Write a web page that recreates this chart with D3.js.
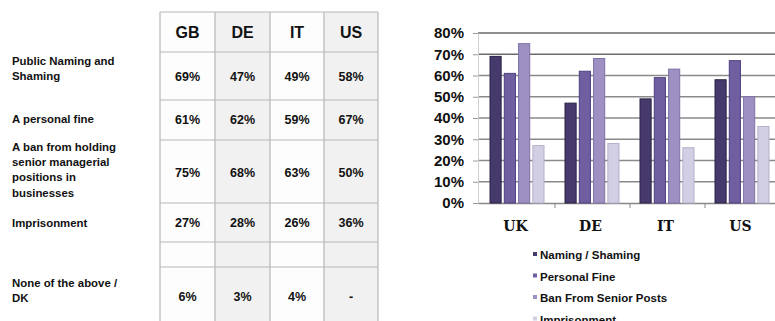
<!DOCTYPE html>
<html>
<head>
<meta charset="utf-8">
<script src="https://cdn.jsdelivr.net/npm/d3@7"></script>
<style>
  html, body { margin: 0; padding: 0; background: #fff; }
  svg { display: block; }
</style>
</head>
<body>
<svg id="c" width="775" height="321"></svg>
<script>
// Table data
const tableCols = ["GB", "DE", "IT", "US"];
const tableRows = [
  ["Public Naming and", "Shaming"],
  ["A personal fine"],
  ["A ban from holding", "senior managerial", "positions in", "businesses"],
  ["Imprisonment"],
  [],
  ["None of the above /", "DK"]
];
const tableValues = [
  ["69%", "47%", "49%", "58%"],
  ["61%", "62%", "59%", "67%"],
  ["75%", "68%", "63%", "50%"],
  ["27%", "28%", "26%", "36%"],
  ["", "", "", ""],
  ["6%", "3%", "4%", "-"]
];

// Chart data
const countries = ["UK", "DE", "IT", "US"];
const seriesNames = ["Naming / Shaming", "Personal Fine", "Ban From Senior Posts", "Imprisonment"];
const namingShaming = [69, 47, 49, 58];
const personalFine = [61, 62, 59, 67];
const banSeniorPosts = [75, 68, 63, 50];
const imprisonment = [27, 28, 26, 36];
const yTicks = [0, 10, 20, 30, 40, 50, 60, 70, 80];

const seriesValues = [namingShaming, personalFine, banSeniorPosts, imprisonment];
const colors = ["#463a6c", "#6f5ea0", "#9e91c2", "#d2cee3"];
const strokes = ["#2c2246", "#4e4080", "#7e72a6", "#b6b0cc"];

const svg = d3.select("#c");
const sans = "'Liberation Sans', Arial, sans-serif";

// ---------- Table ----------
const colEdges = [160, 215, 270, 324, 378];
const rowEdges = [12, 52, 100, 140, 203, 242, 267, 330];
const tbl = svg.append("g");

// column shading
tableCols.forEach((c, i) => {
  tbl.append("rect")
    .attr("x", colEdges[i]).attr("y", rowEdges[0])
    .attr("width", colEdges[i + 1] - colEdges[i])
    .attr("height", rowEdges[rowEdges.length - 1] - rowEdges[0])
    .attr("fill", i % 2 === 1 ? "#f1f1f1" : "#fdfdfd");
});

// grid lines
rowEdges.slice(0, -1).forEach(y => {
  tbl.append("line").attr("x1", colEdges[0]).attr("x2", colEdges[4])
    .attr("y1", y).attr("y2", y).attr("stroke", "#b8b8b8").attr("stroke-width", 1.2);
});
colEdges.forEach(x => {
  tbl.append("line").attr("x1", x).attr("x2", x)
    .attr("y1", rowEdges[0]).attr("y2", 321).attr("stroke", "#b8b8b8").attr("stroke-width", 1.2);
});

// header
tableCols.forEach((c, i) => {
  tbl.append("text")
    .attr("x", (colEdges[i] + colEdges[i + 1]) / 2).attr("y", 38)
    .attr("text-anchor", "middle")
    .attr("font-family", sans).attr("font-weight", "bold").attr("font-size", 16)
    .attr("fill", "#111").text(c);
});

// values
const valueY = [81, 124, 177, 227, null, 301];
tableValues.forEach((row, r) => {
  if (valueY[r] === null) return;
  row.forEach((v, i) => {
    tbl.append("text")
      .attr("x", (colEdges[i] + colEdges[i + 1]) / 2).attr("y", valueY[r])
      .attr("text-anchor", "middle")
      .attr("font-family", sans).attr("font-weight", "bold").attr("font-size", 12.5)
      .attr("fill", "#111").text(v);
  });
});

// row labels
const labelTop = [65, 123, 151, 227, null, 287];
tableRows.forEach((lines, r) => {
  if (labelTop[r] === null) return;
  lines.forEach((t, k) => {
    tbl.append("text")
      .attr("x", 12).attr("y", labelTop[r] + k * 15.2)
      .attr("font-family", sans).attr("font-weight", "bold").attr("font-size", 11.4)
      .attr("fill", "#111").text(t);
  });
});

// ---------- Bar chart ----------
const plotLeft = 478, plotRight = 778;
const y = d3.scaleLinear().domain([0, 80]).range([203, 33]);
const x0 = d3.scaleBand().domain(countries).range([plotLeft, plotRight]);
const x1 = d3.scaleBand().domain(d3.range(4)).range([12, 66]).paddingInner(0.22);

const chart = svg.append("g");

// gridlines
chart.selectAll("line.grid").data(yTicks.filter(t => t > 0)).join("line")
  .attr("x1", plotLeft).attr("x2", 775)
  .attr("y1", d => y(d)).attr("y2", d => y(d))
  .attr("stroke", d => d >= 70 ? "#6a6a6a" : "#8a8a8a")
  .attr("stroke-width", 1.6);

// y axis
const yAxis = d3.axisLeft(y).tickValues(yTicks).tickFormat(d => d + "%").tickSize(5).tickPadding(9);
const yg = chart.append("g").attr("transform", `translate(${plotLeft},0)`).call(yAxis);
yg.select(".domain").attr("stroke", "#d0d0d0");
yg.selectAll(".tick line").attr("stroke", "#999");
yg.selectAll(".tick text")
  .attr("font-family", sans).attr("font-weight", "bold").attr("font-size", 15)
  .attr("fill", "#111");

// x axis
const xg = chart.append("g").attr("transform", `translate(0,${y(0)})`)
  .call(d3.axisBottom(x0).tickSize(0).tickPadding(18));
xg.select(".domain").attr("stroke", "#888").attr("stroke-width", 1.4);
xg.selectAll(".tick text")
  .attr("font-family", "'DejaVu Serif', 'Liberation Serif', serif")
  .attr("font-weight", "bold").attr("font-size", 14).attr("fill", "#111");
// category separators
countries.slice(1).forEach(c => {
  xg.append("line").attr("x1", x0(c) + 2).attr("x2", x0(c) + 2)
    .attr("y1", 0).attr("y2", 5).attr("stroke", "#888");
});

// bars
const groups = chart.selectAll("g.grp").data(countries).join("g")
  .attr("transform", c => `translate(${x0(c)},0)`);
groups.selectAll("rect").data((c, ci) => seriesValues.map((s, si) => ({ si, v: s[ci] }))).join("rect")
  .attr("x", d => x1(d.si))
  .attr("width", x1.bandwidth())
  .attr("y", d => y(d.v))
  .attr("height", d => y(0) - y(d.v))
  .attr("fill", d => colors[d.si])
  .attr("stroke", d => strokes[d.si])
  .attr("stroke-width", 1);

// legend
const leg = svg.append("g").attr("transform", "translate(533,255)");
seriesNames.forEach((n, i) => {
  const g = leg.append("g").attr("transform", `translate(0,${i * 21.5})`);
  g.append("rect").attr("x", 0).attr("y", -3).attr("width", 4).attr("height", 4)
    .attr("fill", colors[i]);
  g.append("text").attr("x", 7).attr("y", 4)
    .attr("font-family", sans).attr("font-weight", "bold").attr("font-size", 11.5)
    .attr("fill", "#111").text(n);
});
</script>
</body>
</html>
